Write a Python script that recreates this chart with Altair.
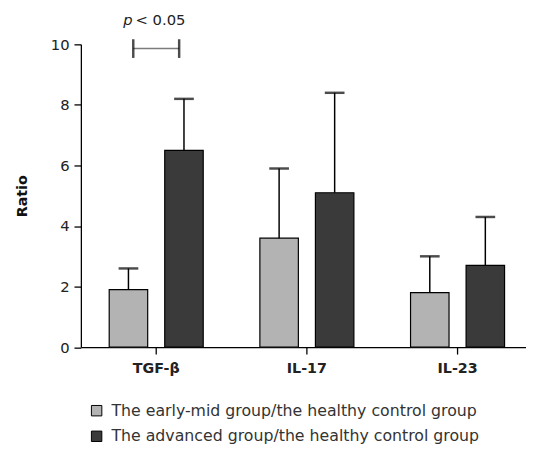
import altair as alt
import pandas as pd

categories = ["TGF-β", "IL-17", "IL-23"]
groups = [
    "The early-mid group/the healthy control group",
    "The advanced group/the healthy control group",
]
early_mean = [1.9, 3.6, 1.8]
early_upper = [2.6, 5.9, 3.0]
adv_mean = [6.5, 5.1, 2.7]
adv_upper = [8.2, 8.4, 4.3]

bracket_cat = ["TGF-β"]
bracket_y = [9.86]
p_label_y = [10.63]

rows = []
for i, c in enumerate(categories):
    rows.append(dict(cat=c, group=groups[0], mean=early_mean[i], upper=early_upper[i]))
    rows.append(dict(cat=c, group=groups[1], mean=adv_mean[i], upper=adv_upper[i]))
df = pd.DataFrame(rows)
bdf = pd.DataFrame({"cat": bracket_cat, "y": bracket_y, "ty": p_label_y})

FONT = "DejaVu Sans"
FS = 15
xscale = alt.Scale(domain=categories, range=[0, 459], paddingInner=0, paddingOuter=0)
offscale = alt.Scale(domain=groups, paddingInner=0.307, paddingOuter=0.51)
yscale = alt.Scale(domain=[0, 10])
cscale = alt.Scale(domain=groups, range=["#b3b3b3", "#3a3a3a"])

x_enc = alt.X("cat:N", scale=xscale, sort=categories,
              axis=alt.Axis(title=None, labelAngle=0, labelFontWeight="bold",
                            labelPadding=8, tickSize=7, domain=True, ticks=True,
                            labels=True, labelFontSize=14.5))
x_plain = alt.X("cat:N", scale=xscale, sort=categories, axis=None)
xo = alt.XOffset("group:N", scale=offscale, sort=groups)


def yp(field):
    return alt.Y(field, scale=yscale, axis=None)


bars = alt.Chart(df).mark_bar(stroke="black", strokeWidth=1.2).encode(
    x=x_enc,
    xOffset=xo,
    y=alt.Y("mean:Q", scale=yscale,
            axis=alt.Axis(title="Ratio", values=[0, 2, 4, 6, 8, 10], grid=False,
                          tickSize=7, labelPadding=5, titleFontWeight="bold",
                          titlePadding=21, titleFontSize=14.5, domain=True, ticks=True)),
    color=alt.Color("group:N", scale=cscale, sort=groups,
                    legend=alt.Legend(title=None, orient="none", legendX=8, legendY=364,
                                      padding=0, symbolType="square", symbolSize=112,
                                      symbolStrokeColor="black", symbolStrokeWidth=1,
                                      labelFontSize=16, labelColor="#333",
                                      labelFont=FONT, rowPadding=10, labelOffset=7,
                                      labelLimit=500)),
)

whisk = alt.Chart(df).mark_rule(color="black", strokeWidth=1.5).encode(
    x=x_plain, xOffset=xo,
    y=yp("mean:Q"), y2="upper:Q",
)
caps = alt.Chart(df).mark_tick(color="black", size=20, thickness=2.5, orient="horizontal").encode(
    x=x_plain, xOffset=xo,
    y=yp("upper:Q"),
)

hline = alt.Chart(bdf).mark_tick(color="#444", size=46.6, thickness=1.5, orient="horizontal").encode(
    x=x_plain, y=yp("y:Q"))
lend = alt.Chart(bdf).mark_tick(color="black", size=19, thickness=2.5, orient="vertical",
                                xOffset=-23.3).encode(
    x=x_plain, y=yp("y:Q"))
rend = alt.Chart(bdf).mark_tick(color="black", size=19, thickness=2.5, orient="vertical",
                                xOffset=23.3).encode(
    x=x_plain, y=yp("y:Q"))
ptext = alt.Chart(bdf).mark_text(text="p", fontStyle="italic", align="right", dx=-24,
                                 baseline="alphabetic", fontSize=FS, font=FONT,
                                 color="#222").encode(
    x=x_plain, y=yp("ty:Q"))
vtext = alt.Chart(bdf).mark_text(text="< 0.05", align="left", dx=-21,
                                 baseline="alphabetic", fontSize=FS, font=FONT,
                                 color="#222").encode(
    x=x_plain, y=yp("ty:Q"))

chart = alt.layer(bars, whisk, caps, hline, lend, rend, ptext, vtext).resolve_axis(
    x="independent", y="independent"
).properties(
    width=452, height=307.5, autosize="none",
    padding={"left": 74, "top": 33.5, "right": 0, "bottom": 101},
).configure_view(stroke=None).configure_axis(
    domainColor="black", domainWidth=1.3, tickColor="black", tickWidth=1.3,
    labelFont=FONT, labelFontSize=FS, labelColor="#222", titleFont=FONT,
    titleColor="#111",
)

chart.save("out.html", embed_options={"renderer": "svg", "actions": False})
